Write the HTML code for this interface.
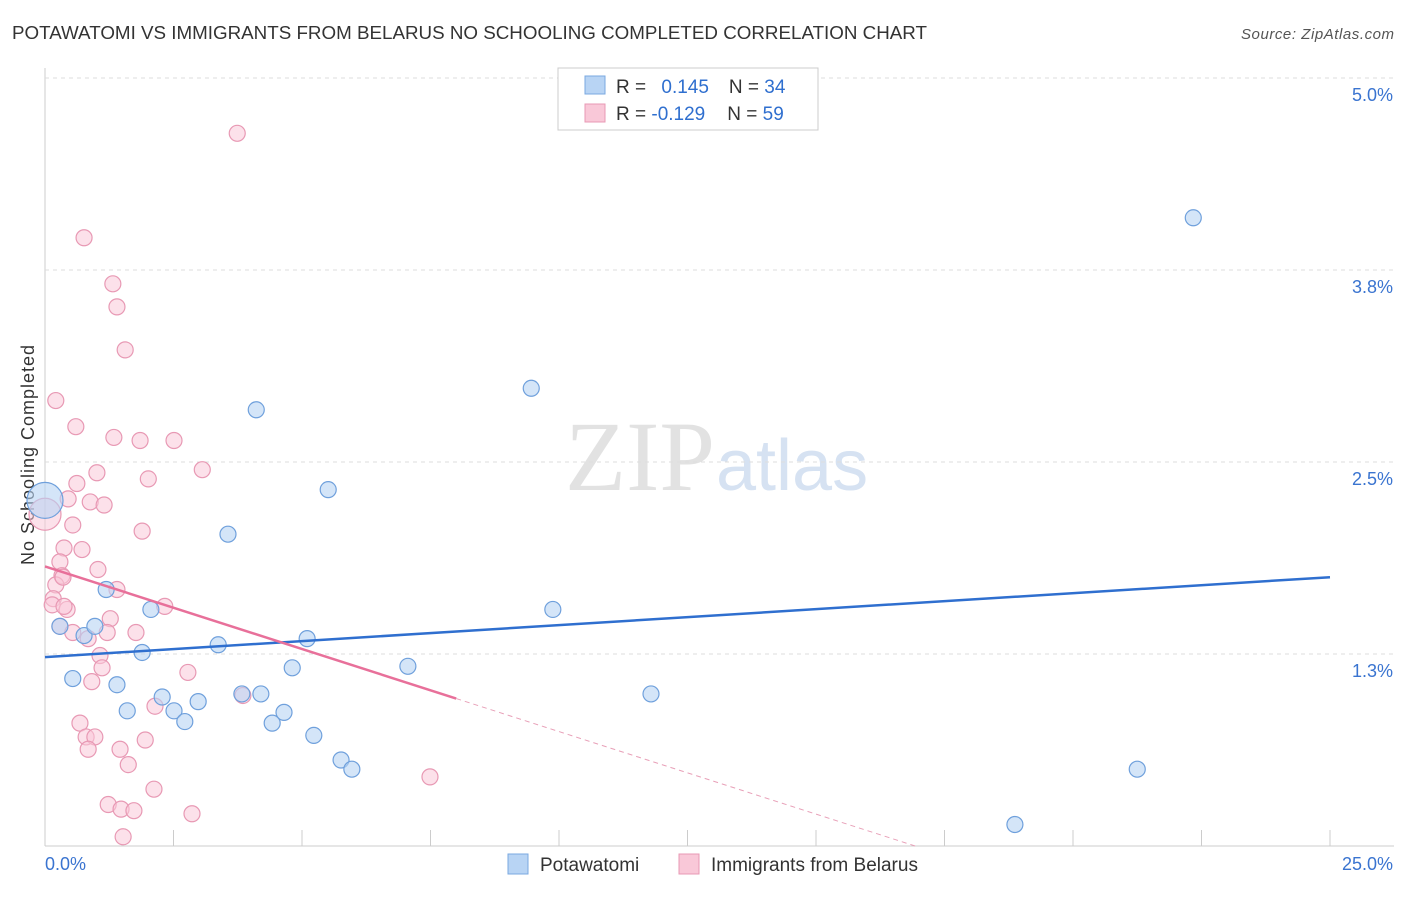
<!DOCTYPE html>
<html><head><meta charset="utf-8"><style>
body{margin:0;background:#fff;font-family:"Liberation Sans",sans-serif;}
</style></head><body>
<svg id="c" width="1406" height="892" xmlns="http://www.w3.org/2000/svg">
<text x="12" y="39" font-size="18" fill="#333" textLength="915" lengthAdjust="spacingAndGlyphs">POTAWATOMI VS IMMIGRANTS FROM BELARUS NO SCHOOLING COMPLETED CORRELATION CHART</text>
<text x="1394" y="39" font-size="15" fill="#555" font-style="italic" text-anchor="end" textLength="153">Source: ZipAtlas.com</text>
<text x="715" y="490" font-size="100" fill="#e2e2e2" text-anchor="end" font-family="Liberation Serif">ZIP</text>
<text x="716" y="490" font-size="72" fill="#d6e2f2">atlas</text>
<text x="34" y="455" font-size="18" fill="#333" transform="rotate(-90 34 455)" text-anchor="middle" textLength="220">No Schooling Completed</text>
<g id="grid"></g><g id="pts"></g><g id="lines"></g>
<g>
<rect x="558" y="68" width="260" height="62" fill="#fff" stroke="#ccc"/>
<rect x="585" y="76" width="20" height="18" fill="#b8d4f4" stroke="#7aa8e0"/>
<rect x="585" y="104" width="20" height="18" fill="#f9c8d8" stroke="#e899b4"/>
<text x="616" y="93" font-size="19" fill="#333">R = <tspan fill="#2f6fcf" dx="10">0.145</tspan><tspan fill="#333" dx="20">N = </tspan><tspan fill="#2f6fcf">34</tspan></text>
<text x="616" y="120" font-size="19" fill="#333">R = <tspan fill="#2f6fcf">-0.129</tspan><tspan fill="#333" dx="22">N = </tspan><tspan fill="#2f6fcf">59</tspan></text>
</g>
<g>
<rect x="508" y="854" width="20" height="20" fill="#b8d4f4" stroke="#7aa8e0"/>
<text x="540" y="871" font-size="19" fill="#333">Potawatomi</text>
<rect x="679" y="854" width="20" height="20" fill="#f9c8d8" stroke="#e899b4"/>
<text x="711" y="871" font-size="19" fill="#333">Immigrants from Belarus</text>
</g>
</svg>
<script>
const yTicks=[1.25,2.5,3.75,5.0];
const yTickLabels=["1.3%","2.5%","3.8%","5.0%"];
const xTickLabels=["0.0%","25.0%"];
const blueX=[0,0.29,0.54,0.76,0.97,1.19,1.40,1.60,1.89,2.06,2.28,2.51,2.72,2.98,3.37,3.56,3.83,4.11,4.20,4.42,4.65,4.81,5.10,5.23,5.51,5.76,5.97,7.06,9.46,9.88,11.79,18.87,21.25,22.34];
const blueY=[2.25,1.43,1.09,1.37,1.43,1.67,1.05,0.88,1.26,1.54,0.97,0.88,0.81,0.94,1.31,2.03,0.99,2.84,0.99,0.80,0.87,1.16,1.35,0.72,2.32,0.56,0.50,1.17,2.98,1.54,0.99,0.14,0.50,4.09];
const pinkX=[0,3.74,0.76,1.32,1.40,1.56,0.21,0.60,1.34,1.85,2.51,1.01,3.06,2.01,0.62,0.45,0.88,1.15,0.54,1.89,0.37,0.72,0.29,1.03,0.33,0.21,1.40,0.16,0.14,0.43,0.37,2.33,1.27,0.29,0.54,1.21,1.77,0.84,1.07,1.11,2.78,0.91,3.85,2.14,0.68,0.80,0.97,1.95,0.84,1.46,1.62,7.49,2.12,1.23,1.48,1.73,2.86,1.52,0.35];
const pinkY=[2.16,4.64,3.96,3.66,3.51,3.23,2.90,2.73,2.66,2.64,2.64,2.43,2.45,2.39,2.36,2.26,2.24,2.22,2.09,2.05,1.94,1.93,1.85,1.80,1.76,1.70,1.67,1.61,1.57,1.54,1.56,1.56,1.48,1.43,1.39,1.39,1.39,1.35,1.24,1.16,1.13,1.07,0.98,0.91,0.80,0.71,0.71,0.69,0.63,0.63,0.53,0.45,0.37,0.27,0.24,0.23,0.21,0.06,1.75];
const blueTrend=[1.23,1.75];
const pinkTrend=[1.82,0.96];
const X=v=>45+v*51.4, Y=v=>846-v*153.6;
const NS="http://www.w3.org/2000/svg";
function mk(t,a,p){const e=document.createElementNS(NS,t);for(const k in a)e.setAttribute(k,a[k]);document.getElementById(p).appendChild(e);return e;}
let ax=mk('line',{x1:45,y1:68,x2:45,y2:846,stroke:'#ccc'},'grid');


let bx=mk('line',{x1:45,y1:846,x2:1394,y2:846,stroke:'#ccc'},'grid');


for(let i=1;i<=10;i++){let t=mk('line',{x1:45+i*128.5,y1:830,x2:45+i*128.5,y2:846,stroke:'#ccc'},'grid');

}
yTicks.forEach((v,i)=>{let g=mk('line',{x1:45,y1:Y(v),x2:1394,y2:Y(v),stroke:'#ddd','stroke-dasharray':'4,4'},'grid');


let t=mk('text',{x:1393,y:Y(v)+23,'font-size':18,fill:'#3a74d0','text-anchor':'end'},'grid');t.textContent=yTickLabels[i];

});
xTickLabels.forEach((s,i)=>{let t=mk('text',{x:i?1393:45,y:870,'font-size':18,fill:'#3a74d0','text-anchor':i?'end':'start'},'grid');t.textContent=s;

});
pinkX.forEach((v,i)=>{let c=mk('circle',{cx:X(v),cy:Y(pinkY[i]),r:i==0?16:8,fill:'rgba(249,200,216,0.55)',stroke:'#e899b4','stroke-width':1.2},'pts');

});
blueX.forEach((v,i)=>{let c=mk('circle',{cx:X(v),cy:Y(blueY[i]),r:i==0?18:8,fill:'rgba(184,212,244,0.6)',stroke:'#6fa0dc','stroke-width':1.2},'pts');

});
let bl=mk('line',{x1:X(0),y1:Y(blueTrend[0]),x2:X(25),y2:Y(blueTrend[1]),stroke:'#2f6fcf','stroke-width':2.5},'lines');


const ps=(pinkTrend[1]-pinkTrend[0])/8;
let pl=mk('line',{x1:X(0),y1:Y(pinkTrend[0]),x2:X(8),y2:Y(pinkTrend[1]),stroke:'#e8709a','stroke-width':2.5},'lines');


const xe=-pinkTrend[0]/ps;
let pd=mk('line',{x1:X(8),y1:Y(pinkTrend[1]),x2:X(xe),y2:Y(0),stroke:'#e8a0b8','stroke-width':1,'stroke-dasharray':'5,4'},'lines');


</script>
</body></html>
